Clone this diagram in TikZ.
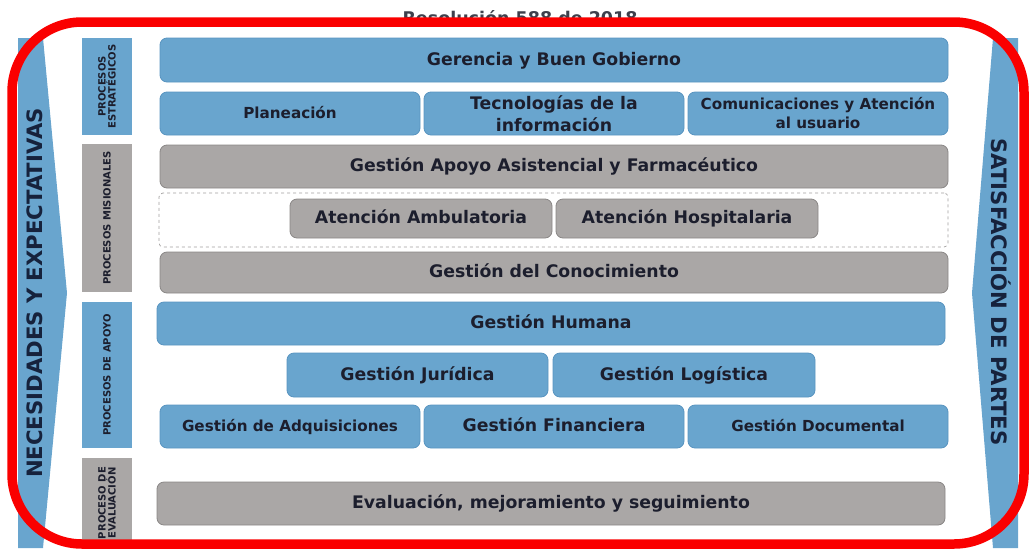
\documentclass[tikz,border=0pt]{standalone}
\usepackage{fontspec}
\setmainfont{DejaVu Sans}
\definecolor{pblue}{RGB}{105,165,206}
\definecolor{pblueD}{RGB}{88,148,192}
\definecolor{pgray}{RGB}{170,167,166}
\definecolor{pgrayD}{RGB}{138,135,134}
\definecolor{ptext}{RGB}{28,30,45}
\definecolor{pnavy}{RGB}{22,34,60}
\definecolor{pred}{RGB}{250,0,0}
\tikzset{
  box/.style={rounded corners=7pt, draw, line width=0.8pt, inner sep=0pt, align=center,
    font=\bfseries\fontsize{17.3}{19}\selectfont, text=ptext},
  onebox/.style={box, text height=12pt, text depth=2pt},
  smallfont/.style={font=\bfseries\fontsize{15.2}{19}\selectfont, text height=11pt, text depth=2pt},
  bluebox/.style={onebox, fill=pblue, draw=pblueD},
  graybox/.style={onebox, fill=pgray, draw=pgrayD},
  bluebox2/.style={box, fill=pblue, draw=pblueD},
  catbox/.style={rotate=90, inner sep=0pt, align=center, minimum height=50pt,
    font=\bfseries\fontsize{10}{10}\selectfont, text=ptext},
  sidetext/.style={font=\bfseries\fontsize{21.2}{24}\selectfont, text=pnavy, inner sep=0pt},
  dashbox/.style={draw=pgrayD!80, dashed, line width=0.7pt, rounded corners=4pt, inner sep=0pt},
  redframe/.style={draw=pred, line width=9.5pt, rounded corners=70pt}
}
\begin{document}
\begin{tikzpicture}[x=1pt,y=-1pt]
\useasboundingbox (0,0) rectangle (1029,550);
% title (partly hidden)
\node[font=\bfseries\fontsize{17.5}{19}\selectfont, text=ptext!85, inner sep=0pt] (title) at (520,18) {Resolución 588 de 2018};
% side arrows
\fill[pblue] (18,38) -- (43,38) -- (67,293) -- (43,548) -- (18,548) -- cycle;
\fill[pblue] (993,38) -- (1018,38) -- (1018,548) -- (993,548) -- (972,293) -- cycle;
\node[sidetext, rotate=90] (nec) at (35,293) {NECESIDADES Y EXPECTATIVAS};
\node[sidetext, rotate=-90] (sat) at (1001,292) {SATISFACCIÓN DE PARTES};
% category boxes
\node[catbox, fill=pblue, minimum width=97pt] (c1) at (107,86.5) {PROCESOS\\ESTRATÉGICOS};
\node[catbox, fill=pgray, minimum width=148pt] (c2) at (107,218) {PROCESOS MISIONALES};
\node[catbox, fill=pblue, minimum width=146pt] (c3) at (107,375) {PROCESOS DE APOYO};
\node[catbox, fill=pgray, minimum width=90pt] (c4) at (107,503) {PROCESO DE\\EVALUACIÓN};
% strategic
\node[bluebox, minimum width=788pt, minimum height=44pt] (g1) at (554,60) {Gerencia y Buen Gobierno};
\node[bluebox, smallfont, minimum width=260pt, minimum height=43pt] (g2) at (290,113.5) {Planeación};
\node[bluebox2, minimum width=260pt, minimum height=43pt, font=\bfseries\fontsize{17.3}{22}\selectfont] (g3) at (554,113.5) {Tecnologías de la\\información};
\node[bluebox2, font=\bfseries\fontsize{15.2}{19}\selectfont, minimum width=260pt, minimum height=43pt] (g4) at (818,113.5) {Comunicaciones y Atención\\al usuario};
% misionales
\node[graybox, minimum width=788pt, minimum height=43pt] (m1) at (554,166.5) {Gestión Apoyo Asistencial y Farmacéutico};
\node[dashbox, minimum width=789pt, minimum height=54pt] (md) at (553.5,220) {};
\node[graybox, minimum width=262pt, minimum height=39pt] (m2) at (421,218.5) {Atención Ambulatoria};
\node[graybox, minimum width=262pt, minimum height=39pt] (m3) at (687,218.5) {Atención Hospitalaria};
\node[graybox, minimum width=788pt, minimum height=41pt] (m4) at (554,272.5) {Gestión del Conocimiento};
% apoyo
\node[bluebox, minimum width=788pt, minimum height=43pt] (a1) at (551,323.5) {Gestión Humana};
\node[bluebox, minimum width=261pt, minimum height=44pt] (a2) at (417.5,375) {Gestión Jurídica};
\node[bluebox, minimum width=262pt, minimum height=44pt] (a3) at (684,375) {Gestión Logística};
\node[bluebox, smallfont, minimum width=260pt, minimum height=43pt] (a4) at (290,426.5) {Gestión de Adquisiciones};
\node[bluebox, minimum width=260pt, minimum height=43pt] (a5) at (554,426.5) {Gestión Financiera};
\node[bluebox, smallfont, minimum width=260pt, minimum height=43pt] (a6) at (818,426.5) {Gestión Documental};
% evaluación
\node[graybox, minimum width=788pt, minimum height=43pt] (e1) at (551,503.5) {Evaluación, mejoramiento y seguimiento};
% red frame
\draw[redframe] (12,22) rectangle (1024,544);
\end{tikzpicture}
\end{document}
